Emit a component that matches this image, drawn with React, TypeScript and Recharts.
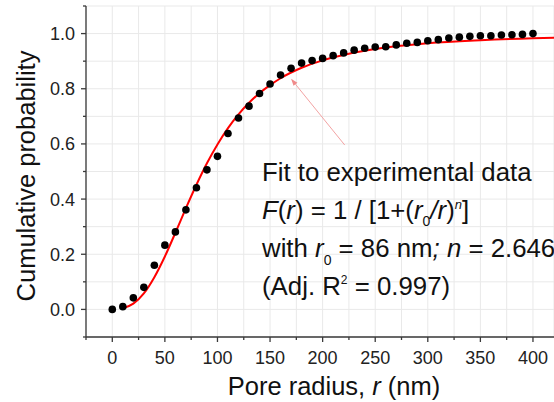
import React from 'react';
import {
  ComposedChart,
  Line,
  Scatter,
  XAxis,
  YAxis,
  CartesianGrid,
  ReferenceLine,
} from 'recharts';

// measured points (pore radius in nm, cumulative probability)
const radii = [
  0, 10, 20, 30, 40, 50, 60, 70, 80, 90, 100, 110, 120, 130, 140, 150, 160, 170, 180, 190, 200,
  210, 220, 230, 240, 250, 260, 270, 280, 290, 300, 310, 320, 330, 340, 350, 360, 370, 380, 390, 400,
];
const probabilities = [
  0.0, 0.01, 0.042, 0.08, 0.16, 0.233, 0.281, 0.361, 0.441, 0.506, 0.555, 0.638, 0.694, 0.737,
  0.783, 0.817, 0.85, 0.874, 0.893, 0.902, 0.91, 0.92, 0.93, 0.94, 0.947, 0.951, 0.952, 0.959,
  0.965, 0.968, 0.974, 0.978, 0.984, 0.987, 0.99, 0.992, 0.992, 0.995, 0.996, 0.997, 1.0,
];

// fitted curve
const fitRadii = [10, 20, 30, 40, 50, 60, 70, 80, 90, 100, 110, 120, 130, 140, 150, 160, 180, 200, 225, 250, 300, 350, 400, 420];
const fitValues = [
  0.004, 0.021, 0.058, 0.117, 0.192, 0.278, 0.367, 0.452, 0.53, 0.598, 0.657, 0.707, 0.749, 0.784,
  0.813, 0.838, 0.876, 0.903, 0.927, 0.944, 0.965, 0.976, 0.983, 0.985,
];

const xTicks = [-25, 0, 25, 50, 75, 100, 125, 150, 175, 200, 225, 250, 275, 300, 325, 350, 375, 400];
const yTicks = [-0.1, 0, 0.1, 0.2, 0.3, 0.4, 0.5, 0.6, 0.7, 0.8, 0.9, 1.0, 1.1];

const pointData = radii.map((r, i) => ({ r, p: probabilities[i] }));
const fitData = fitRadii.map((r, i) => ({ r, f: fitValues[i] }));

const FONT = '"Liberation Sans", Arial, sans-serif';
const AXIS = '#3a3a3a';

const XTick = ({ x, y, payload }: any) => {
  const v = payload.value;
  const major = v % 50 === 0;
  return (
    <g>
      <line x1={x} x2={x} y1={y} y2={y + (major ? 5 : 3)} stroke={AXIS} strokeWidth={1.3} />
      {major && (
        <text x={x} y={y + 27} textAnchor="middle" fontSize={18} fill="#222" fontFamily={FONT}>
          {v}
        </text>
      )}
    </g>
  );
};

const YTick = ({ x, y, payload }: any) => {
  const v = payload.value;
  const k = Math.round(v * 10);
  const major = k % 2 === 0 && k >= 0 && k <= 10;
  return (
    <g>
      <line x1={x} x2={x - (major ? 5 : 3)} y1={y} y2={y} stroke={AXIS} strokeWidth={1.3} />
      {major && (
        <text x={x - 11} y={y + 6.5} textAnchor="end" fontSize={18} fill="#222" fontFamily={FONT}>
          {v.toFixed(1)}
        </text>
      )}
    </g>
  );
};

const Dot = ({ cx, cy }: any) => <circle cx={cx} cy={cy} r={3.8} fill="#000" />;

const Arrow = ({ x1, y1, x2, y2 }: any) => {
  // head at the (x2, y2) end
  const a = Math.atan2(y2 - y1, x2 - x1);
  const L = 7;
  const w = 2.5;
  const bx = x2 - L * Math.cos(a);
  const by = y2 - L * Math.sin(a);
  const px = -Math.sin(a) * w;
  const py = Math.cos(a) * w;
  return (
    <g>
      <line x1={x1} y1={y1} x2={bx} y2={by} stroke="#f3a3a3" strokeWidth={1} />
      <polygon points={`${x2},${y2} ${bx + px},${by + py} ${bx - px},${by - py}`} fill="#f08a8a" />
    </g>
  );
};

export default function App() {
  return (
    <div style={{ position: 'relative', width: 554, height: 402, background: '#fff', fontFamily: FONT }}>
      <style>{`body{margin:0}`}</style>
      <ComposedChart width={554} height={402} margin={{ top: 6, right: 0, bottom: 0, left: 0 }}>
        <CartesianGrid stroke="#e9e9e9" strokeWidth={1} />
        <XAxis
          type="number"
          dataKey="r"
          domain={[-25, 420]}
          ticks={xTicks}
          allowDataOverflow
          height={65}
          tickSize={0}
          tickMargin={0}
          tickLine={false}
          tick={<XTick />}
          stroke={AXIS}
          strokeWidth={1.3}
          interval={0}
        />
        <YAxis
          type="number"
          domain={[-0.1, 1.1]}
          ticks={yTicks}
          allowDataOverflow
          width={86}
          tickSize={0}
          tickMargin={0}
          tickLine={false}
          tick={<YTick />}
          stroke={AXIS}
          strokeWidth={1.3}
          interval={0}
        />
        <ReferenceLine
          segment={[
            { x: 221, y: 0.596 },
            { x: 170, y: 0.836 },
          ]}
          shape={<Arrow />}
          ifOverflow="visible"
        />
        <Line
          data={fitData}
          dataKey="f"
          type="monotone"
          stroke="#ff0000"
          strokeWidth={2}
          dot={false}
          isAnimationActive={false}
        />
        <Scatter data={pointData} dataKey="p" shape={<Dot />} isAnimationActive={false} />
      </ComposedChart>
      <svg
        width={554}
        height={402}
        style={{ position: 'absolute', left: 0, top: 0, pointerEvents: 'none' }}
        fontFamily={FONT}
        fill="#111"
      >
        <text transform="translate(35,176) rotate(-90)" textAnchor="middle" fontSize={25.5}>
          Cumulative probability
        </text>
        <text x={334} y={395} textAnchor="middle" fontSize={25.5}>
          Pore radius, <tspan fontStyle="italic">r</tspan> (nm)
        </text>
        <text x={262} y={181} fontSize={25.8}>Fit to experimental data</text>
        <text x={262} y={219} fontSize={25.8}>
          <tspan fontStyle="italic">F</tspan>(<tspan fontStyle="italic">r</tspan>) = 1 / [1+(
          <tspan fontStyle="italic">r</tspan>
          <tspan fontSize={14} dy={7}>0</tspan>
          <tspan dy={-7} fontStyle="italic">/r</tspan>)
          <tspan fontSize={13} dy={-10} fontStyle="italic">n</tspan>
          <tspan dy={10}>]</tspan>
        </text>
        <text x={262} y={257} fontSize={25.8}>
          with <tspan fontStyle="italic">r</tspan>
          <tspan fontSize={14} dy={8}>0</tspan>
          <tspan dy={-8}> = 86 nm</tspan>
          <tspan fontStyle="italic">; n</tspan> = 2.646
        </text>
        <text x={262} y={295} fontSize={25.8}>
          (Adj. R<tspan fontSize={12} dy={-11}>2</tspan>
          <tspan dy={11}> = 0.997)</tspan>
        </text>
      </svg>
    </div>
  );
}
